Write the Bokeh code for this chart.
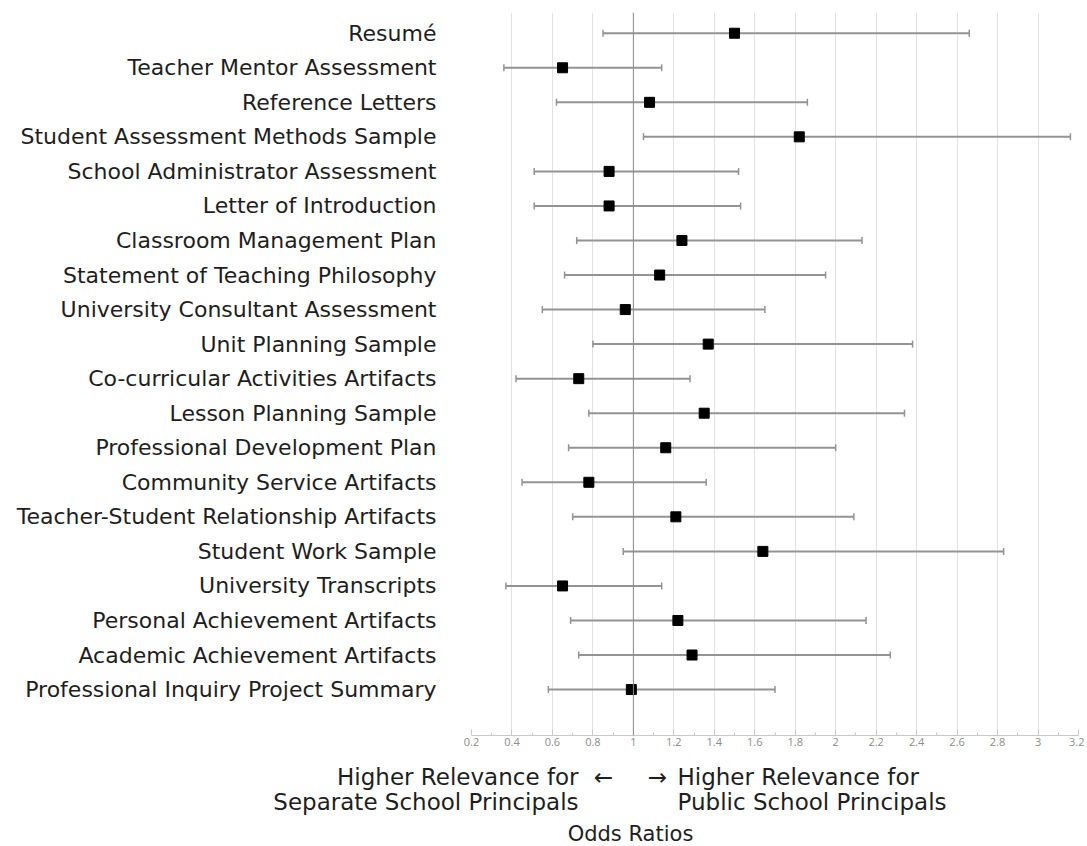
from bokeh.plotting import figure
from bokeh.models import FixedTicker, Span, Whisker, ColumnDataSource, TeeHead, Range1d
from bokeh.core.properties import value
from bokeh.embed import file_html
from bokeh.resources import INLINE

categories = [
    "Resumé",
    "Teacher Mentor Assessment",
    "Reference Letters",
    "Student Assessment Methods Sample",
    "School Administrator Assessment",
    "Letter of Introduction",
    "Classroom Management Plan",
    "Statement of Teaching Philosophy",
    "University Consultant Assessment",
    "Unit Planning Sample",
    "Co-curricular Activities Artifacts",
    "Lesson Planning Sample",
    "Professional Development Plan",
    "Community Service Artifacts",
    "Teacher-Student Relationship Artifacts",
    "Student Work Sample",
    "University Transcripts",
    "Personal Achievement Artifacts",
    "Academic Achievement Artifacts",
    "Professional Inquiry Project Summary",
]
odds_ratio = [1.50, 0.65, 1.08, 1.82, 0.88, 0.88, 1.24, 1.13, 0.96, 1.37,
              0.73, 1.35, 1.16, 0.78, 1.21, 1.64, 0.65, 1.22, 1.29, 0.99]
ci_lower = [0.85, 0.36, 0.62, 1.05, 0.51, 0.51, 0.72, 0.66, 0.55, 0.80,
            0.42, 0.78, 0.68, 0.45, 0.70, 0.95, 0.37, 0.69, 0.73, 0.58]
ci_upper = [2.66, 1.14, 1.86, 3.16, 1.52, 1.53, 2.13, 1.95, 1.65, 2.38,
            1.28, 2.34, 2.00, 1.36, 2.09, 2.83, 1.14, 2.15, 2.27, 1.70]
x_ticks = [0.2, 0.4, 0.6, 0.8, 1.0, 1.2, 1.4, 1.6, 1.8, 2.0, 2.2, 2.4, 2.6, 2.8, 3.0, 3.2]
x_tick_labels = ["0.2", "0.4", "0.6", "0.8", "1", "1.2", "1.4", "1.6", "1.8", "2",
                 "2.2", "2.4", "2.6", "2.8", "3", "3.2"]
x_minor = [0.3, 0.5, 0.7, 0.9, 1.1, 1.3, 1.5, 1.7, 1.9, 2.1, 2.3, 2.5, 2.7, 2.9, 3.1]
note_texts = ["Higher Relevance for", "Separate School Principals", "←", "→",
              "Higher Relevance for", "Public School Principals"]
axis_title = "Odds Ratios"

n = len(categories)
ypos = list(range(n, 0, -1))

src = ColumnDataSource(dict(y=ypos, x=odds_ratio, lo=ci_lower, hi=ci_upper, name=categories))

FONT = "DejaVu Sans"
W = 1084

p = figure(width=W, height=760, output_backend="svg", toolbar_location=None,
           x_range=(0.2, 3.2), y_range=(-0.33, 20.6),
           min_border_left=471, min_border_right=6, min_border_top=12, min_border_bottom=25)
p.outline_line_color = None

p.xgrid.ticker = FixedTicker(ticks=x_ticks)
p.xgrid.grid_line_color = "#e2e2e2"
p.xgrid.grid_line_width = 1
p.ygrid.grid_line_color = None

p.xaxis.ticker = FixedTicker(ticks=x_ticks, minor_ticks=x_minor)
p.xaxis.major_label_overrides = {t: l for t, l in zip(x_ticks, x_tick_labels)}
p.xaxis.axis_line_color = "#c8c8c8"
p.xaxis.major_tick_line_color = "#c8c8c8"
p.xaxis.minor_tick_line_color = "#c8c8c8"
p.xaxis.major_tick_in = 6
p.xaxis.major_tick_out = 0
p.xaxis.minor_tick_in = 3
p.xaxis.minor_tick_out = 0
p.xaxis.major_label_text_font = "Open Sans"
p.xaxis.major_label_text_font_size = "11px"
p.xaxis.major_label_text_color = "#8c8c8c"
p.xaxis.major_label_standoff = 2

p.yaxis.ticker = FixedTicker(ticks=ypos)
p.yaxis.major_label_overrides = {y: c for y, c in zip(ypos, categories)}
p.yaxis.axis_line_color = None
p.yaxis.major_tick_line_color = None
p.yaxis.minor_tick_line_color = None
p.yaxis.major_tick_in = 0
p.yaxis.major_tick_out = 0
p.yaxis.major_label_standoff = 35
p.yaxis.major_label_text_font = FONT
p.yaxis.major_label_text_font_size = "22px"
p.yaxis.major_label_text_color = "#1e1e1e"

p.add_layout(Span(location=1.0, dimension="height", line_color="#8a8a8a", line_width=1))

w = Whisker(source=src, base="y", lower="lo", upper="hi", dimension="width",
            line_color="#939393", line_width=2,
            upper_head=TeeHead(size=7, line_color="#939393", line_width=1.5),
            lower_head=TeeHead(size=7, line_color="#939393", line_width=1.5))
p.add_layout(w)

p.scatter(x="x", y="y", source=src, marker="square", size=10,
          fill_color="black", line_color="black")

# bottom annotation panel, a separate root (pixel coordinates, y downward)
q = figure(width=W, height=84, output_backend="svg", toolbar_location=None,
           x_range=Range1d(0, W), y_range=Range1d(84, 0),
           min_border_left=0, min_border_right=0, min_border_top=0, min_border_bottom=0)
q.axis.visible = False
q.grid.visible = False
q.outline_line_color = None

def lab(x, y, t, align, size="23px"):
    q.text(x=[x], y=[y], text=[t], text_align=align, text_baseline="middle",
           text_font=value(FONT), text_font_size=size, text_color="#1e1e1e")

lab(578, 16, note_texts[0], "right")
lab(578, 41, note_texts[1], "right")
lab(603, 16, note_texts[2], "center")
lab(657, 16, note_texts[3], "center")
lab(677, 16, note_texts[4], "left")
lab(677, 41, note_texts[5], "left")
lab(630, 73, axis_title, "center", "21px")

open("out.html", "w").write(file_html([p, q], INLINE))
